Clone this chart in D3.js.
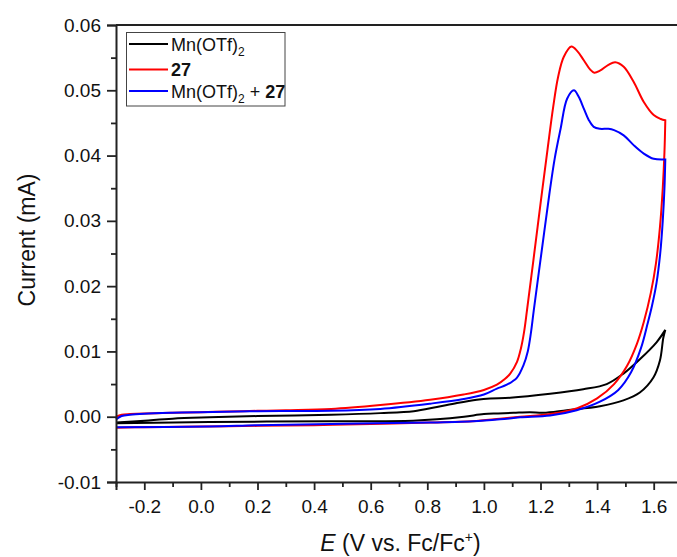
<!DOCTYPE html>
<html>
<head>
<meta charset="utf-8">
<script src="https://cdn.jsdelivr.net/npm/d3@7"></script>
<style>
  html, body { margin: 0; padding: 0; background: #fff; }
  svg { display: block; font-family: "Liberation Sans", Arial, sans-serif; }
</style>
</head>
<body>
<svg id="chart" width="677" height="557"></svg>
<script>
// Cyclic voltammograms: potential E (V vs. Fc/Fc+) and current (mA),
// each trace runs forward to the switching potential and back.

// Mn(OTf)2
const mnE = [-0.30, -0.20, -0.10, 0.03, 0.20, 0.46, 0.634, 0.752, 0.834, 0.905, 0.975, 1.022, 1.093,
  1.234, 1.351, 1.434, 1.493, 1.551, 1.610, 1.641,
  1.634, 1.622, 1.599, 1.551, 1.493, 1.410, 1.293, 1.210, 1.163, 1.105, 1.050, 1.000, 0.930,
  0.834, 0.750, 0.460, 0.030, -0.30];
const mnI = [-0.0009, -0.0006, -0.0003, -0.0001, 0.0001, 0.0003, 0.00055, 0.00085, 0.0015, 0.0021, 0.0026, 0.0028, 0.0029,
  0.0035, 0.0042, 0.0050, 0.0066, 0.0088, 0.0114, 0.0133,
  0.0121, 0.0086, 0.0060, 0.0037, 0.0025, 0.0016, 0.0010, 0.0006, 0.0007, 0.0006, 0.0005, 0.0004, 0.0000,
  -0.0004, -0.0006, -0.0007, -0.0008, -0.0010];

// 27
const l27E = [-0.30, -0.28, -0.25, -0.20, -0.10, 0.00, 0.10, 0.20, 0.30, 0.46, 0.634, 0.81, 0.928, 1.000,
  1.046, 1.075, 1.093, 1.117, 1.131, 1.142, 1.152, 1.175, 1.200, 1.225, 1.245, 1.262, 1.282, 1.309, 1.330,
  1.353, 1.375, 1.390, 1.410, 1.440, 1.464, 1.494, 1.529, 1.565, 1.600, 1.625, 1.641,
  1.638, 1.632, 1.622, 1.608, 1.590, 1.565, 1.541, 1.506, 1.460, 1.400, 1.330, 1.234, 1.128, 1.057,
  0.960, 0.810, 0.600, 0.400, 0.200, 0.000, -0.20, -0.30];
const l27I = [0.0000, 0.0003, 0.0004, 0.0005, 0.0006, 0.0007, 0.0008, 0.0009, 0.0010, 0.0012, 0.0018, 0.0026, 0.0034, 0.0041,
  0.0049, 0.0058, 0.0066, 0.0084, 0.0105, 0.0130, 0.0162, 0.0240, 0.0326, 0.0410, 0.0475, 0.0520, 0.0551, 0.0567, 0.0560,
  0.0546, 0.0532, 0.0527, 0.0530, 0.0539, 0.0543, 0.0536, 0.0513, 0.0482, 0.0462, 0.0456, 0.0454,
  0.0405, 0.0350, 0.0290, 0.0235, 0.0190, 0.0145, 0.0112, 0.0078, 0.0050, 0.0028, 0.0013, 0.0004, 0.0000, -0.0003,
  -0.0007, -0.0009, -0.0011, -0.0013, -0.0014, -0.0015, -0.0016, -0.0017];

// Mn(OTf)2 + 27
const mixE = [-0.30, -0.28, -0.25, -0.20, -0.10, 0.00, 0.20, 0.46, 0.634, 0.81, 0.928, 1.000, 1.046,
  1.081, 1.117, 1.140, 1.155, 1.166, 1.176, 1.203, 1.231, 1.250, 1.271, 1.294, 1.318, 1.335,
  1.353, 1.370, 1.388, 1.410, 1.440, 1.460, 1.494, 1.529, 1.565, 1.600, 1.641,
  1.638, 1.632, 1.623, 1.610, 1.594, 1.578, 1.555, 1.520, 1.475, 1.410, 1.328, 1.234, 1.128, 1.057,
  0.960, 0.810, 0.460, 0.200, 0.030, -0.30];
const mixI = [-0.0004, 0.0001, 0.0003, 0.00045, 0.0006, 0.0007, 0.00085, 0.0009, 0.0012, 0.0020, 0.0027, 0.0034, 0.0043,
  0.0049, 0.0060, 0.0079, 0.0100, 0.0128, 0.0162, 0.0250, 0.0340, 0.0395, 0.0441, 0.0487, 0.0500, 0.0490,
  0.0472, 0.0455, 0.0444, 0.0441, 0.0441, 0.0439, 0.0431, 0.0416, 0.0403, 0.0395, 0.0394,
  0.0350, 0.0300, 0.0250, 0.0205, 0.0170, 0.0142, 0.0105, 0.0068, 0.0041, 0.0023, 0.0010, 0.0002, -0.0001, -0.0004,
  -0.0007, -0.0009, -0.0011, -0.0013, -0.0015, -0.0016];

// Axis ticks
const xTicks = [-0.2, 0.0, 0.2, 0.4, 0.6, 0.8, 1.0, 1.2, 1.4, 1.6];
const xMinorTicks = [-0.3, -0.1, 0.1, 0.3, 0.5, 0.7, 0.9, 1.1, 1.3, 1.5, 1.7];
const yTicks = [-0.01, 0.00, 0.01, 0.02, 0.03, 0.04, 0.05, 0.06];
const yMinorTicks = [-0.005, 0.005, 0.015, 0.025, 0.035, 0.045, 0.055];

const svg = d3.select("#chart");
const plotLeft = 116, plotRight = 682, plotTop = 25, plotBottom = 482;

const x = d3.scaleLinear().domain([-0.3, 1.7]).range([plotLeft, plotRight]);
const y = d3.scaleLinear().domain([-0.01, 0.06]).range([plotBottom, plotTop]);

const traces = [
  { E: mnE, I: mnI, color: "#000000" },
  { E: l27E, I: l27I, color: "#ff0000" },
  { E: mixE, I: mixI, color: "#0000ff" }
];

const line = d3.line()
  .x(d => x(d[0]))
  .y(d => y(d[1]))
  .curve(d3.curveCatmullRom.alpha(0.5));

// Forward and reverse sweeps are smoothed separately so the switching
// potential stays a sharp vertex.
function sweepPath(t) {
  const pts = t.E.map((e, i) => [e, t.I[i]]);
  const k = d3.maxIndex(t.E);
  const fwd = line(pts.slice(0, k + 1));
  const rev = line(pts.slice(k)).replace(/^M[^C L]*/, m => "L" + m.slice(1));
  return fwd + rev;
}

svg.append("g")
  .selectAll("path")
  .data(traces)
  .join("path")
  .attr("d", sweepPath)
  .attr("fill", "none")
  .attr("stroke", t => t.color)
  .attr("stroke-width", 2)
  .attr("stroke-linejoin", "miter")
  .attr("stroke-miterlimit", 4);

// Frame (top and right borders)
svg.append("path")
  .attr("d", `M${plotLeft},${plotTop}H${plotRight}V${plotBottom}`)
  .attr("fill", "none")
  .attr("stroke", "#222")
  .attr("stroke-width", 2);

// Bottom axis
const fmtX = v => d3.format(".1f")(v).replace("\u2212", "-");
const xAxis = svg.append("g").attr("transform", `translate(0,${plotBottom})`);
xAxis.call(d3.axisBottom(x).tickValues(xTicks).tickFormat(fmtX).tickSize(8).tickPadding(10));
xAxis.append("g").call(d3.axisBottom(x).tickValues(xMinorTicks).tickFormat("").tickSize(5))
  .select(".domain").remove();

// Left axis
const fmtY = v => d3.format(".2f")(v).replace("\u2212", "-");
const yAxis = svg.append("g").attr("transform", `translate(${plotLeft},0)`);
yAxis.call(d3.axisLeft(y).tickValues(yTicks).tickFormat(fmtY).tickSize(9).tickPadding(6));
yAxis.append("g").call(d3.axisLeft(y).tickValues(yMinorTicks).tickFormat("").tickSize(5))
  .select(".domain").remove();

svg.selectAll(".domain").attr("stroke", "#222").attr("stroke-width", 2);
svg.selectAll(".tick line").attr("stroke", "#222").attr("stroke-width", 1.8);
svg.selectAll(".tick text")
  .attr("font-family", "'Liberation Sans', Arial, sans-serif")
  .attr("font-size", 19)
  .attr("fill", "#111");

// Axis titles
svg.append("text")
  .attr("transform", "translate(35,240) rotate(-90)")
  .attr("text-anchor", "middle")
  .attr("font-size", 23)
  .attr("fill", "#111")
  .text("Current (mA)");

const xt = svg.append("text")
  .attr("x", 400.5)
  .attr("y", 551)
  .attr("text-anchor", "middle")
  .attr("font-size", 23)
  .attr("fill", "#111");
xt.append("tspan").attr("font-style", "italic").text("E");
xt.append("tspan").text(" (V vs. Fc/Fc");
xt.append("tspan").attr("font-size", 14).attr("dy", -9).text("+");
xt.append("tspan").attr("dy", 9).text(")");

// Legend
const legendItems = [
  { parts: [["Mn(OTf)", "n"], ["2", "sub"]], color: "#000000", ly: 44 },
  { parts: [["27", "b"]], color: "#ff0000", ly: 69.5 },
  { parts: [["Mn(OTf)", "n"], ["2", "sub"], [" + ", "n"], ["27", "b"]], color: "#0000ff", ly: 91 }
];

const lg = svg.append("g");
lg.append("rect")
  .attr("x", 126.5).attr("y", 32.5)
  .attr("width", 158.5).attr("height", 73.5)
  .attr("fill", "#fff")
  .attr("stroke", "#444")
  .attr("stroke-width", 1);

legendItems.forEach(item => {
  lg.append("line")
    .attr("x1", 129).attr("x2", 168)
    .attr("y1", item.ly).attr("y2", item.ly)
    .attr("stroke", item.color)
    .attr("stroke-width", 2);
  const t = lg.append("text")
    .attr("x", 171)
    .attr("y", item.ly + 6.5)
    .attr("font-size", 18)
    .attr("fill", "#111");
  let shifted = false;
  item.parts.forEach(([s, kind]) => {
    const sp = t.append("tspan").text(s);
    if (kind === "sub") {
      sp.attr("font-size", 12).attr("dy", 5);
      shifted = true;
    } else {
      if (shifted) { sp.attr("dy", -5); shifted = false; }
      if (kind === "b") sp.attr("font-weight", "bold");
    }
  });
});
</script>
</body>
</html>
